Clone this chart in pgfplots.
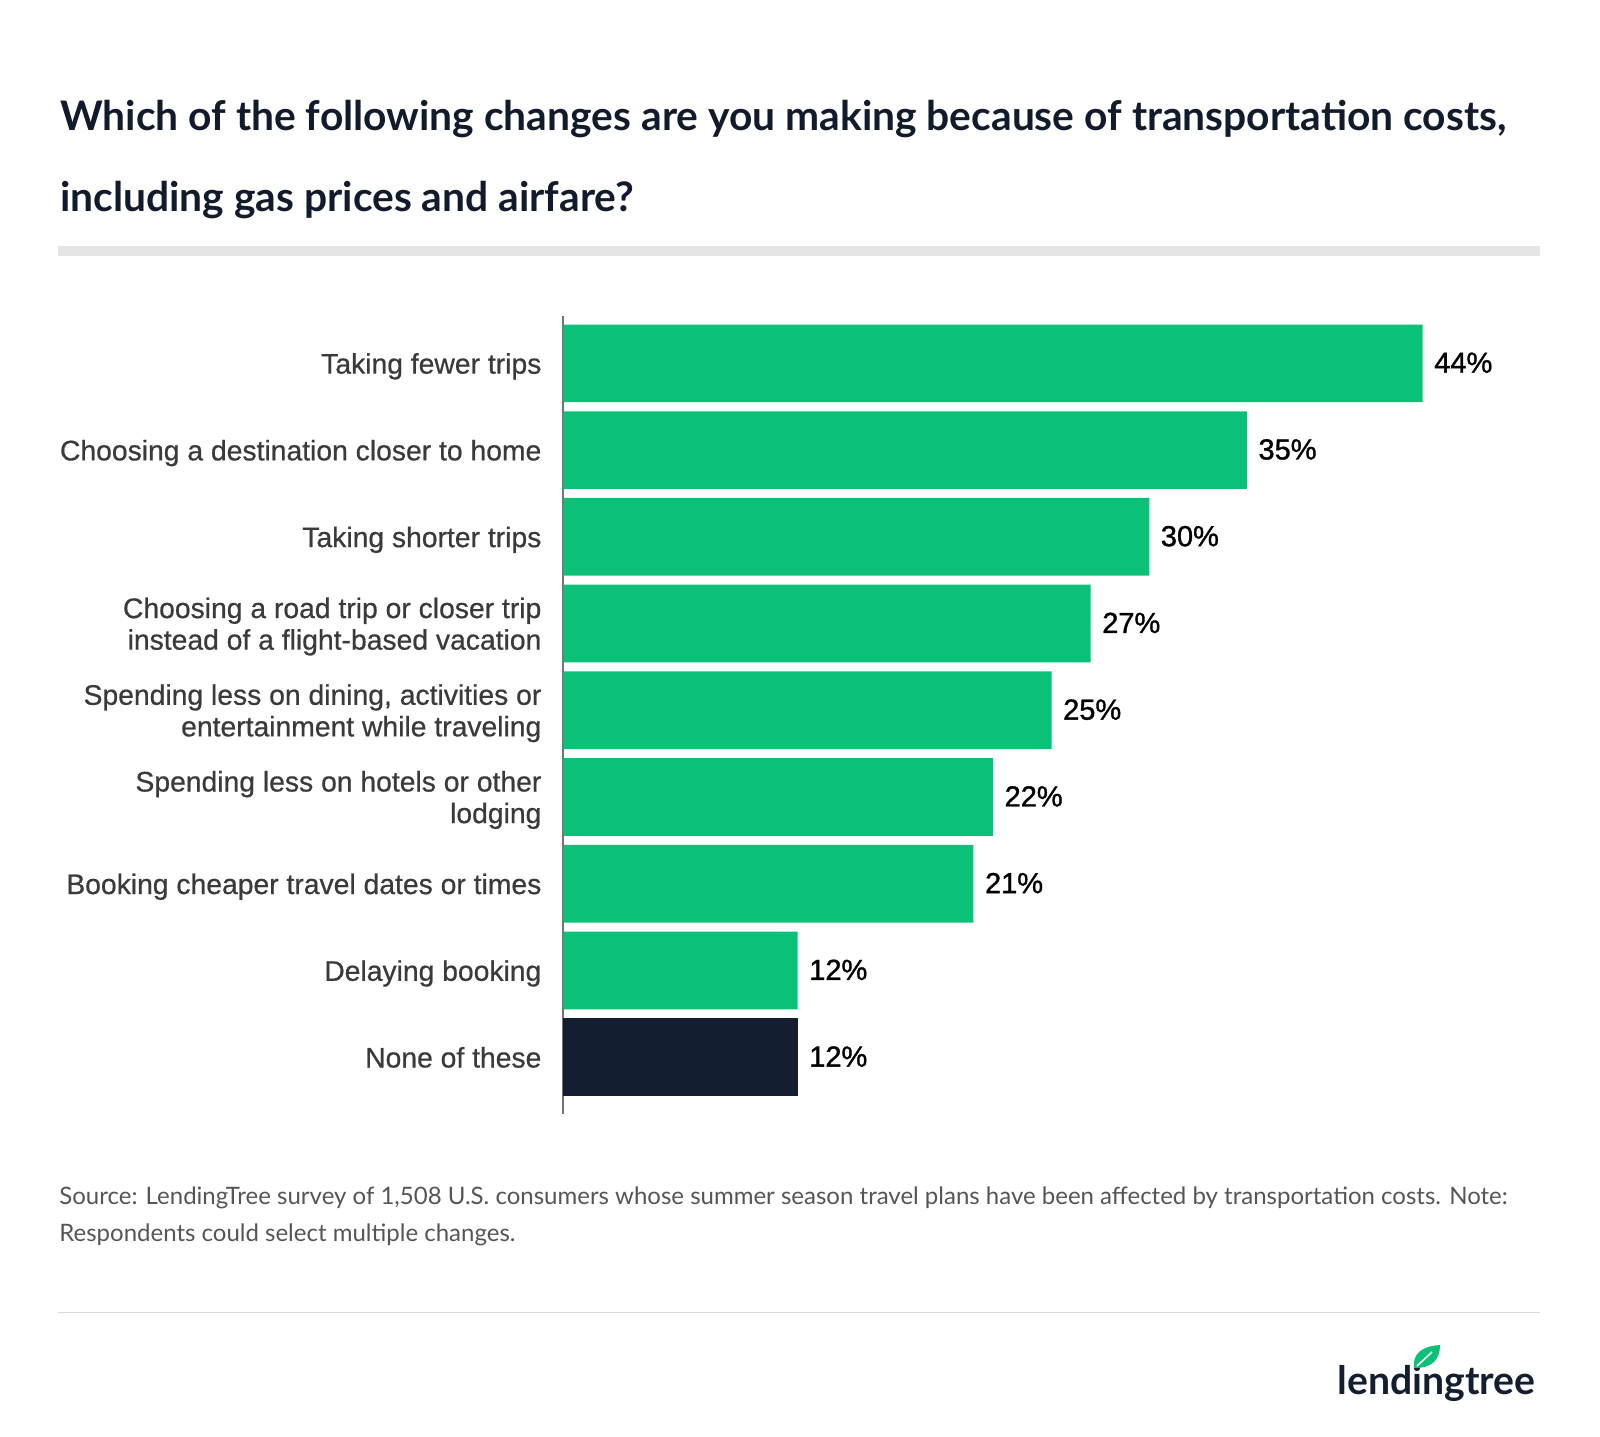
\documentclass[border=0pt]{standalone}
\usepackage{fontspec}
\setmainfont{Lato}
\newfontfamily\lab[FakeBold=0.6]{Liberation Sans}
\newfontfamily\val[FakeBold=1.2]{Liberation Sans}
\usepackage{graphicx}
\usepackage{pgfplots}
\pgfplotsset{compat=1.18}
\definecolor{ltgreen}{HTML}{0BC177}
\definecolor{ltnavy}{HTML}{131F30}
\definecolor{titlec}{HTML}{111B2B}
\definecolor{labc}{HTML}{3A3A3A}
\definecolor{srcc}{HTML}{555555}
\begin{document}
\begin{tikzpicture}
\path[use as bounding box] (0,0) rectangle (800pt,-718pt);
% title
\node[anchor=base west,inner sep=0pt,text=titlec,font=\fontsize{20.37}{24}\selectfont\bfseries] at (30pt,-65pt) {Which of the following changes are you making because of transportation costs,};
\node[anchor=base west,inner sep=0pt,text=titlec,font=\fontsize{20.37}{24}\selectfont\bfseries] at (30pt,-105.8pt) {including gas prices and airfare?};
\fill[black!10] (29pt,-123pt) rectangle (770pt,-128pt);
\begin{axis}[
  anchor=north west, at={(281.65pt,-158.15pt)},
  width=488.3pt, height=399pt, scale only axis,
  xmin=0, xmax=50, ymin=-0.542, ymax=8.659, y dir=reverse,
  xbar, bar width=38.8pt,
  axis x line=none,
  axis y line*=left,
  y axis line style={draw=black!55, line width=1pt, -},
  ytick={0,...,8}, major tick length=0pt,
  yticklabels={Taking fewer trips,Choosing a destination closer to home,Taking shorter trips,{Choosing a road trip or closer trip\\instead of a flight-based vacation},{Spending less on dining, activities or\\entertainment while traveling},{Spending less on hotels or other\\lodging},Booking cheaper travel dates or times,Delaying booking,None of these\vphantom{g}},
  yticklabel style={align=right, anchor=east, inner sep=0pt, xshift=-10.75pt, yshift=-1.5pt, text=labc, font=\lab\fontsize{14.15}{15.8}\selectfont},
  /pgf/number format/assume math mode=true,
  nodes near coords={\pgfmathprintnumber{\pgfplotspointmeta}\%},
  nodes near coords style={anchor=west, inner sep=0pt, xshift=5.6pt, yshift=0.3pt, text=black, font=\val\fontsize{14.5}{16}\selectfont},
  clip=false,
]
\addplot[fill=ltgreen, draw=none, bar shift=0pt] coordinates {(44,0) (35,1) (30,2) (27,3) (25,4) (22,5) (21,6) (12,7)};
\addplot[fill=ltnavy, draw=none, bar shift=0pt] coordinates {(12,8)};
\end{axis}
% source
\node[anchor=base west,inner sep=0pt,text=srcc,font=\fontsize{12}{14}\selectfont] at (29.5pt,-602pt) {Source: LendingTree survey of 1,508 U.S. consumers whose summer season travel plans have been affected by transportation costs. Note:};
\node[anchor=base west,inner sep=0pt,text=srcc,font=\fontsize{12}{14}\selectfont] at (29.5pt,-620.9pt) {Respondents could select multiple changes.};
\draw[black!15, line width=0.5pt] (29pt,-656pt) -- (770pt,-656pt);
% logo
\node[anchor=base west,inner sep=0pt,text=ltnavy] at (668.5pt,-697pt) {\resizebox{99pt}{!}{\bfseries lendingtree}};
\fill[ltgreen] (707pt,-684pt) .. controls (706pt,-677pt) and (711pt,-673pt) .. (720pt,-672.5pt) .. controls (720pt,-680pt) and (716pt,-684pt) .. (707pt,-684pt) -- cycle;
\draw[white, line width=0.8pt] (708.5pt,-683pt) -- (716pt,-676pt);
\end{tikzpicture}
\end{document}
